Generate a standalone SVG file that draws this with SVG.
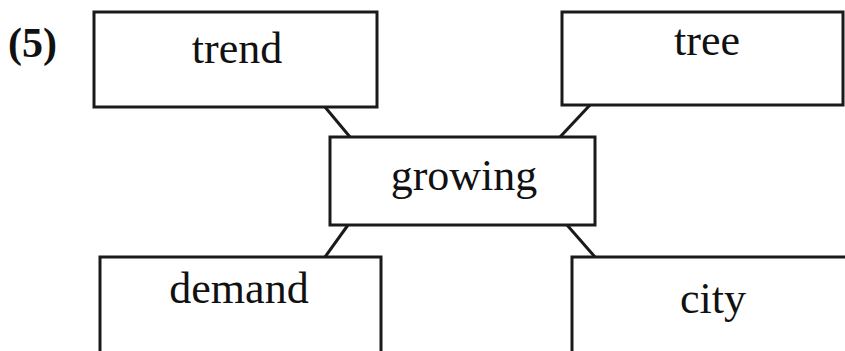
<svg xmlns="http://www.w3.org/2000/svg" width="845" height="351" viewBox="0 0 845 351">
<style>
.box{fill:#fff;stroke:#1a1a1a;stroke-width:3}
.lbl{font-family:"Liberation Serif","Times New Roman",serif;font-size:44px;fill:#111;text-anchor:middle}
.edge{stroke:#1a1a1a;stroke-width:3;fill:none}
</style>
<rect width="845" height="351" fill="#fff"/>
<text x="8" y="57" style="font-family:'Liberation Serif',serif;font-size:42px;font-weight:bold;fill:#111">(5)</text>
<g id="connectors">
<line class="edge" x1="325" y1="107" x2="350" y2="137"/>
<line class="edge" x1="590" y1="105" x2="560" y2="137"/>
<line class="edge" x1="348" y1="225" x2="325" y2="257"/>
<line class="edge" x1="567" y1="225" x2="595" y2="257"/>
</g>
<g id="trend"><rect class="box" x="94" y="12" width="283" height="95"/><text class="lbl" x="237" y="63">trend</text></g>
<g id="tree"><rect class="box" x="562" y="12" width="281" height="93"/><text class="lbl" x="707" y="55">tree</text></g>
<g id="growing"><rect class="box" x="330" y="137" width="265" height="88"/><text class="lbl" x="464" y="190">growing</text></g>
<g id="demand"><rect class="box" x="100" y="257" width="281" height="110"/><text class="lbl" x="239" y="303">demand</text></g>
<g id="city"><rect class="box" x="572" y="257" width="290" height="110"/><text class="lbl" x="713" y="313">city</text></g>
</svg>
